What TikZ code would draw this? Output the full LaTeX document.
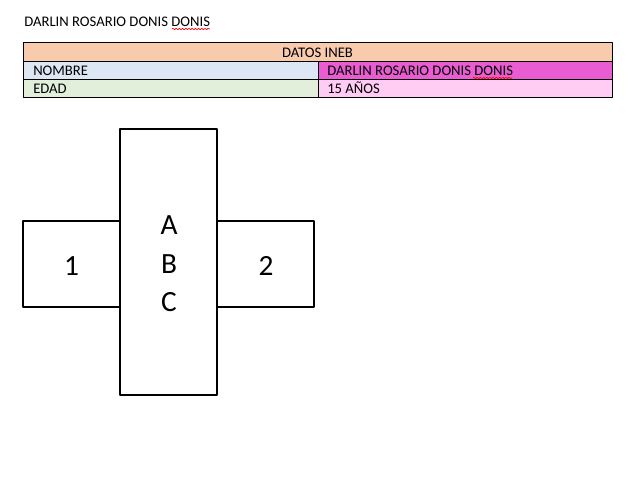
\documentclass[tikz,border=0pt]{standalone}
\usepackage{fontspec}
\setmainfont{Carlito}
\usetikzlibrary{decorations.pathmorphing}
\definecolor{durazno}{HTML}{F8CBAD}
\definecolor{celeste}{HTML}{DDE7F3}
\definecolor{verdeclaro}{HTML}{E2EFDA}
\definecolor{fucsia}{HTML}{EA5CD2}
\definecolor{rosado}{HTML}{FFCCF4}
\tikzset{
  celda/.style={anchor=base west, inner sep=0pt},
  grande/.style={anchor=base, inner sep=0pt, font=\fontsize{22}{26}\selectfont},
  ondita/.style={red, line width=0.5pt, decorate, decoration={snake, amplitude=0.55pt, segment length=2.4pt}}
}
\begin{document}
\begin{tikzpicture}[x=0.75pt, y=-0.75pt, line join=round, font=\fontsize{11}{13}\selectfont]
			\useasboundingbox (0,0) rectangle (637,479);
			% titulo
			\node[celda] (titulo) at (24,26) {DARLIN ROSARIO DONIS DONIS};
			\draw[ondita] (172,29) -- (210,29);
			% tabla
			\coordinate (T1) at (23,42);
			\coordinate (T2) at (612,97);
			\fill[durazno] (23,42) rectangle (612,61);
			\fill[celeste] (23,61) rectangle (318,79);
			\fill[fucsia] (318,61) rectangle (612,79);
			\fill[verdeclaro] (23,79) rectangle (318,97);
			\fill[rosado] (318,79) rectangle (612,97);
			\draw[line width=0.6pt] (T1) rectangle (T2) (23,61)--(612,61) (23,79)--(612,79) (318,61)--(318,97);
			\node[anchor=base, inner sep=0pt] (datos) at (317.5,57) {DATOS INEB};
			\node[celda] (nombre) at (33,75) {NOMBRE};
			\node[celda] (nombreval) at (327,75) {DARLIN ROSARIO DONIS DONIS};
			\draw[ondita] (473,78) -- (512,78);
			\node[celda] (edad) at (33,93) {EDAD};
			\node[celda] (edadval) at (327,93) {15 AÑOS};
			% cruz
			\coordinate (L1) at (23,221);
			\coordinate (L2) at (120,307);
			\coordinate (M1) at (120,129);
			\coordinate (M2) at (217,395);
			\coordinate (R1) at (217,221);
			\coordinate (R2) at (314,307);
			\draw[line width=0.8pt] (L1) rectangle (L2) (M1) rectangle (M2) (R1) rectangle (R2);
			\path node[grande] (uno) at (71.5,275.5) {1}
			node[grande] (letraA) at (169,234) {A}
			node[grande] (letraB) at (169,273) {B}
			node[grande] (letraC) at (169,311.5) {C}
			node[grande] (dos) at (266,275.5) {2};
		\end{tikzpicture}
\end{document}
